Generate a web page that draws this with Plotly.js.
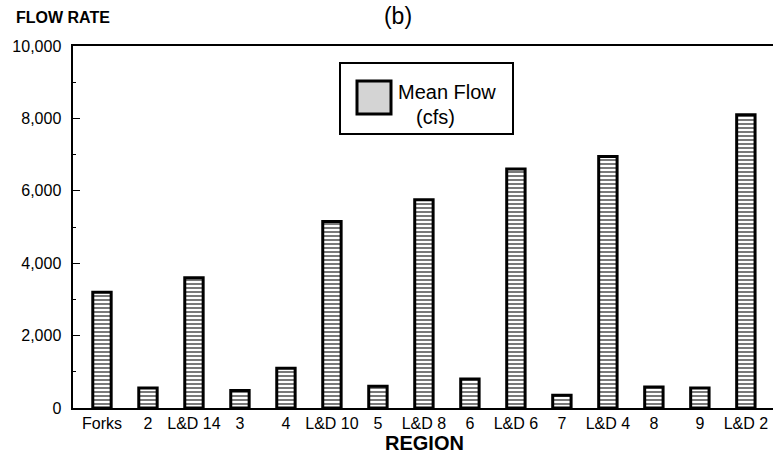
<!DOCTYPE html>
<html>
<head>
<meta charset="utf-8">
<script src="https://cdn.plot.ly/plotly-3.0.1.min.js"></script>
<style>html,body{margin:0;padding:0;background:#fff;}#chart{width:773px;height:465px;}</style>
</head>
<body>
<div id="chart"></div>
<script>
const regions = ["Forks", "2", "L&D 14", "3", "4", "L&D 10", "5", "L&D 8", "6", "L&D 6", "7", "L&D 4", "8", "9", "L&D 2"];
const meanFlow = [3200, 550, 3600, 480, 1100, 5150, 600, 5750, 800, 6600, 350, 6950, 580, 550, 8100];
const yTickVals = [0, 2000, 4000, 6000, 8000, 10000];
const seriesName = "Mean Flow (cfs)";

const FONT = "Liberation Sans, Arial, Helvetica, sans-serif";

const trace = {
  type: "bar",
  x: regions,
  y: meanFlow,
  name: seriesName,
  width: 0.4,
  marker: {
    color: "#ffffff",
    line: {color: "#000000", width: 3},
    pattern: {shape: "-", fgcolor: "#7a7a7a", bgcolor: "#ffffff", size: 4, solidity: 0.5}
  },
  showlegend: false,
  hoverinfo: "x+y"
};

const layout = {
  width: 773,
  height: 465,
  margin: {l: 73, r: 0, t: 46, b: 57},
  paper_bgcolor: "#ffffff",
  plot_bgcolor: "#ffffff",
  font: {family: FONT, size: 16, color: "#000"},
  showlegend: false,
  xaxis: {
    type: "category",
    range: [-0.63, 14.59],
    showline: true,
    linecolor: "#000",
    linewidth: 2,
    mirror: true,
    ticks: "",
    showgrid: false,
    zeroline: false,
    tickfont: {family: FONT, size: 16, color: "#000"},
    fixedrange: true
  },
  yaxis: {
    range: [0, 10000],
    tickvals: yTickVals,
    tickformat: ",d",
    showline: true,
    linecolor: "#000",
    linewidth: 2.5,
    ticks: "inside",
    ticklen: 7,
    tickwidth: 1,
    tickcolor: "#000",
    minor: {dtick: 1000, ticks: "inside", ticklen: 3, tickcolor: "#000", tickwidth: 1},
    showgrid: false,
    zeroline: false,
    ticklabelstandoff: 6,
    tickfont: {family: FONT, size: 16, color: "#000"},
    fixedrange: true
  },
  title: {
    text: "(b)",
    font: {family: FONT, size: 23, color: "#000"},
    x: 398 / 773,
    xanchor: "center",
    y: 1 - 16 / 465,
    yanchor: "middle"
  },
  shapes: [
    {type: "rect", xref: "paper", yref: "paper", x0: (340 - 73) / 700, x1: (513 - 73) / 700,
     y0: (408 - 134) / 362, y1: (408 - 63) / 362, line: {color: "#000", width: 2}, fillcolor: "#ffffff"},
    {type: "rect", xref: "paper", yref: "paper", x0: (357 - 73) / 700, x1: (391 - 73) / 700,
     y0: (408 - 114) / 362, y1: (408 - 81) / 362, line: {color: "#000", width: 3}, fillcolor: "#d4d4d4"}
  ],
  annotations: [
    {text: "<b>FLOW RATE</b>", xref: "paper", yref: "paper", x: (14 - 73) / 700, y: (408 - 17) / 362,
     xanchor: "left", yanchor: "middle", showarrow: false, font: {family: FONT, size: 16, color: "#000"}},
    {text: "<b>REGION</b>", xref: "paper", yref: "paper", x: (424 - 73) / 700, y: (408 - 443) / 362,
     xanchor: "center", yanchor: "middle", showarrow: false, font: {family: FONT, size: 20, color: "#000"}},
    {text: "Mean Flow", xref: "paper", yref: "paper", x: (396 - 73) / 700, y: (408 - 92) / 362,
     xanchor: "left", yanchor: "middle", showarrow: false, font: {family: FONT, size: 20, color: "#000"}},
    {text: "(cfs)", xref: "paper", yref: "paper", x: (414 - 73) / 700, y: (408 - 117) / 362,
     xanchor: "left", yanchor: "middle", showarrow: false, font: {family: FONT, size: 20, color: "#000"}}
  ]
};

Plotly.newPlot("chart", [trace], layout, {displayModeBar: false, staticPlot: true});
</script>
</body>
</html>
